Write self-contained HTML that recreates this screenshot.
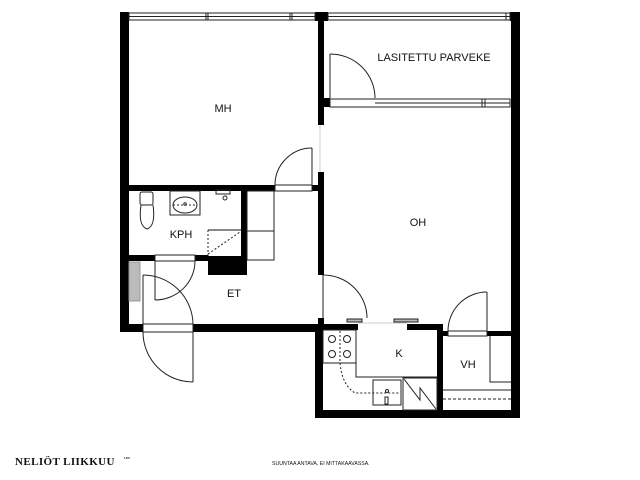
<!DOCTYPE html>
<html><head><meta charset="utf-8"><style>
html,body{margin:0;padding:0;background:#fff;width:640px;height:480px;overflow:hidden}
svg{display:block}
text{font-family:"Liberation Sans",sans-serif;fill:#111}
</style></head><body>
<svg width="640" height="480" viewBox="0 0 640 480" xmlns="http://www.w3.org/2000/svg">
<g fill="#000">
<rect x="120" y="12" width="9" height="320"/>
<rect x="120" y="12" width="9" height="9"/>
<rect x="315" y="12" width="13" height="9"/>
<rect x="510" y="12" width="10" height="9"/>
<rect x="511" y="12" width="9" height="406"/>
<rect x="318" y="12" width="6" height="113"/>
<rect x="318" y="172" width="6" height="103"/>
<rect x="318" y="318" width="6" height="12"/>
<rect x="323" y="98" width="7" height="9"/>
<rect x="120" y="185" width="155" height="6"/>
<rect x="312" y="185" width="12" height="6"/>
<rect x="241" y="185" width="6" height="90"/>
<rect x="208" y="256" width="39" height="19"/>
<rect x="120" y="255" width="35" height="6"/>
<rect x="195" y="255" width="13" height="6"/>
<rect x="120" y="324" width="23" height="8"/>
<rect x="193" y="324" width="130" height="8"/>
<rect x="315" y="324" width="8" height="94"/>
<rect x="315" y="324" width="43" height="6"/>
<rect x="407" y="324" width="36" height="6"/>
<rect x="437" y="324" width="6" height="90"/>
<rect x="315" y="410" width="205" height="8"/>
<rect x="437" y="331" width="11" height="5"/>
<rect x="487" y="331" width="33" height="5"/>
</g>
<g fill="none" stroke="#222" stroke-width="1">
<rect x="129" y="13" width="186" height="7"/>
<line x1="129" y1="16.5" x2="315" y2="16.5"/>
<line x1="206" y1="13" x2="206" y2="20"/><line x1="208" y1="13" x2="208" y2="20"/>
<line x1="290" y1="13" x2="290" y2="20"/><line x1="292" y1="13" x2="292" y2="20"/>
<rect x="328" y="13" width="182" height="7"/>
<line x1="328" y1="16.5" x2="510" y2="16.5"/>
<line x1="506" y1="13" x2="506" y2="20"/>
<rect x="330" y="99" width="180" height="8"/>
<line x1="375" y1="103" x2="510" y2="103"/>
<line x1="482" y1="99" x2="482" y2="107"/><line x1="485" y1="99" x2="485" y2="107"/>
<line x1="330" y1="54" x2="330" y2="98"/>
<path d="M330 54 A45 44 0 0 1 375 98"/>
<line x1="312" y1="148" x2="312" y2="185"/>
<path d="M312 148 A37 37 0 0 0 275 185"/>
<rect x="275" y="185" width="37" height="6"/>
<line x1="320" y1="125" x2="320" y2="172" stroke="#ccc"/>
<rect x="247" y="191" width="27" height="69"/>
<line x1="247" y1="231" x2="274" y2="231"/>
<rect x="140" y="192" width="13" height="13" rx="2"/>
<path d="M141 205 Q138 226 147 229 Q156 226 153 205"/>
<rect x="170" y="191" width="30" height="24"/>
<ellipse cx="185" cy="205" rx="12" ry="8"/>
<line x1="173" y1="205" x2="197" y2="205" stroke-dasharray="2,2"/>
<circle cx="185" cy="204" r="1.2"/>
<rect x="216" y="190" width="14" height="4"/>
<circle cx="225" cy="198" r="2"/>
<line x1="208" y1="230" x2="241" y2="230" stroke="#888" stroke-width="2"/>
<line x1="208" y1="230" x2="208" y2="256" stroke-dasharray="2,2"/>
<line x1="208" y1="254" x2="240" y2="232" stroke-dasharray="2,2"/>
<rect x="155" y="255" width="40" height="6"/>
<line x1="155" y1="261" x2="155" y2="300"/>
<path d="M155 300 A40 39 0 0 0 195 261"/>
<rect x="129" y="262" width="11" height="39" fill="#bbb" stroke="#999"/>
<line x1="143" y1="275" x2="143" y2="324"/>
<path d="M143 275 A50 50 0 0 1 193 324"/>
<rect x="143" y="324" width="50" height="8"/>
<line x1="193" y1="332" x2="193" y2="382"/>
<path d="M143 332 A50 50 0 0 0 193 382"/>
<line x1="323" y1="275" x2="323" y2="318"/>
<path d="M323 275 A44 43 0 0 1 367 318"/>
<rect x="347" y="319" width="15" height="3" fill="#bbb"/>
<rect x="394" y="319" width="24" height="3" fill="#bbb"/>
<line x1="358" y1="323" x2="407" y2="323" stroke="#ccc"/>
<line x1="487" y1="292" x2="487" y2="331"/>
<path d="M487 292 A39 39 0 0 0 448 331"/>
<rect x="448" y="331" width="39" height="5"/>
<rect x="323" y="330" width="33" height="33"/>
<circle cx="332" cy="339" r="3.5"/><circle cx="347" cy="339" r="3.5"/>
<circle cx="332" cy="354" r="3.5"/><circle cx="347" cy="354" r="3.5"/>
<line x1="340" y1="331" x2="340" y2="362" stroke-dasharray="2,2"/>
<path d="M340 363 Q342 385 355 393 L400 393" stroke-dasharray="2,2"/>
<polyline points="356,363 356,377 437,377"/>
<rect x="373" y="380" width="28" height="25"/>
<circle cx="387" cy="391" r="1.5"/>
<rect x="385" y="397" width="3" height="7"/>
<rect x="403" y="378" width="34" height="32"/>
<polyline points="404,379 420,400 420,388 436,409"/>
<polyline points="490,336 490,382 511,382"/>
<line x1="443" y1="390" x2="511" y2="390"/>
<line x1="443" y1="399" x2="511" y2="399" stroke-dasharray="3,2"/>
</g>
<text x="223" y="112" font-size="11" text-anchor="middle">MH</text>
<text x="434" y="61" font-size="11" text-anchor="middle">LASITETTU PARVEKE</text>
<text x="418" y="226" font-size="11" text-anchor="middle">OH</text>
<text x="181" y="238" font-size="11" text-anchor="middle">KPH</text>
<text x="234" y="297" font-size="11" text-anchor="middle">ET</text>
<text x="399" y="357" font-size="11" text-anchor="middle">K</text>
<text x="468" y="368" font-size="11" text-anchor="middle">VH</text>
<text x="15" y="465" font-size="11" font-weight="bold" letter-spacing="0.4" style="font-family:'Liberation Serif',serif">NELIÖT LIIKKUU</text>
<text x="124" y="459" font-size="3" font-weight="bold">LKV</text>
<text x="272" y="465" font-size="5.2">SUUNTAA ANTAVA, EI MITTAKAAVASSA.</text>
</svg>
</body></html>
